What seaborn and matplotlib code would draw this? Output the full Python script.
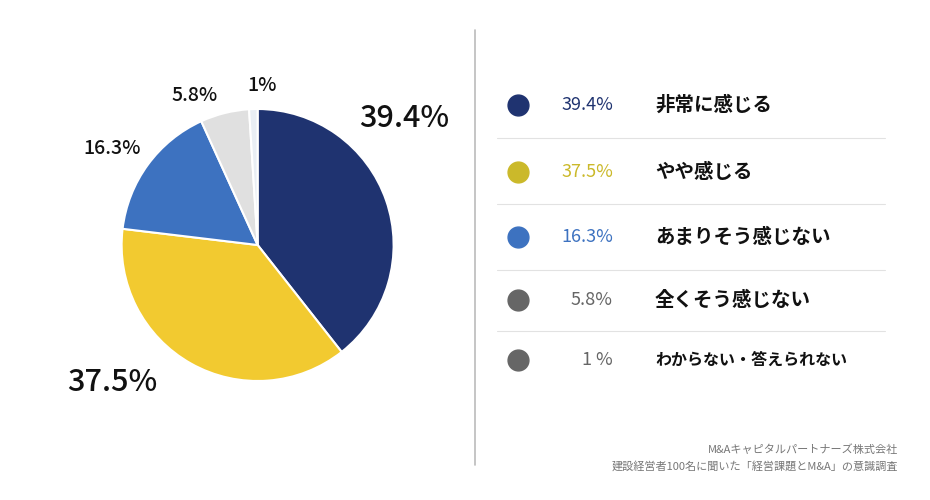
import matplotlib
matplotlib.use("Agg")
import matplotlib.pyplot as plt
import seaborn as sns

sns.set_theme(style="white")
plt.rcParams["font.family"] = ["Noto Sans CJK JP", "DejaVu Sans"]

categories = ["非常に感じる", "やや感じる", "あまりそう感じない", "全くそう感じない", "わからない・答えられない"]
values = [39.4, 37.5, 16.3, 5.8, 1.0]
pct_labels = ["39.4%", "37.5%", "16.3%", "5.8%", "1%"]
legend_pct = ["39.4%", "37.5%", "16.3%", "5.8%", "1 %"]
slice_colors = ["#1f3370", "#f2ca30", "#3d72c0", "#e0e0e0", "#e9eef4"]
legend_colors = ["#1f3370", "#cbb92a", "#3d72c0", "#666666", "#666666"]
pct_text_colors = ["#1f3370", "#cbb92a", "#3d72c0", "#666666", "#666666"]

fig = plt.figure(figsize=(9.3, 5), dpi=100)
fig.patch.set_facecolor("white")
ax = fig.add_axes([0.277 - 0.14624, 0.51 - 0.272, 0.2925, 0.544])
ax.pie(values, colors=slice_colors, startangle=90, counterclock=False,
       radius=1, wedgeprops=dict(edgecolor="white", linewidth=1.5))
ax.set_xlim(-1, 1); ax.set_ylim(-1, 1); ax.set_aspect("equal")
ax.axis("off")

label_pos = [(1.08, 0.93), (-1.07, -1.01), (-1.07, 0.71), (-0.46, 1.10), (0.03, 1.17)]
label_size = [22, 22, 14, 14, 14]
for (x, y), t, s in zip(label_pos, pct_labels, label_size):
    ax.text(x, y, t, ha="center", va="center", fontsize=s, color="#111111",
            fontweight="medium", clip_on=False)

fig.add_artist(plt.Line2D([475/930, 475/930], [1-30/500, 1-465/500], color="#bbbbbb", lw=1.2))

rows_y = [105, 172, 237, 300, 360]
seps = [138, 204, 270, 331]
for sy in seps:
    fig.add_artist(plt.Line2D([497/930, 885/930], [1-sy/500]*2, color="#e2e2e2", lw=0.8))
for i, y in enumerate(rows_y):
    fy = 1 - y/500
    fig.add_artist(plt.Circle((518/930, fy), 0.0112, transform=fig.transFigure,
                              color=legend_colors[i]))
    # keep circle round: use marker instead
for a in list(fig.artists):
    if isinstance(a, plt.Circle):
        a.remove()
for i, y in enumerate(rows_y):
    fy = 1 - y/500
    fig.add_artist(plt.Line2D([518/930], [fy], marker="o", markersize=15,
                              color=legend_colors[i], linestyle="none"))
    fig.text(613/930, fy, legend_pct[i], ha="right", va="center", fontsize=13,
             color=pct_text_colors[i])
    fig.text(655/930, fy, categories[i], ha="left", va="center",
             fontsize=14 if i < 4 else 11.5, color="#111111", fontweight="bold")

fig.text(898/930, 1-450/500, "M&Aキャピタルパートナーズ株式会社", ha="right", va="center",
         fontsize=8, color="#777777")
fig.text(898/930, 1-466/500, "建設経営者100名に聞いた「経営課題とM&A」の意識調査", ha="right",
         va="center", fontsize=8, color="#777777")

fig.savefig("out.png", dpi=100)
